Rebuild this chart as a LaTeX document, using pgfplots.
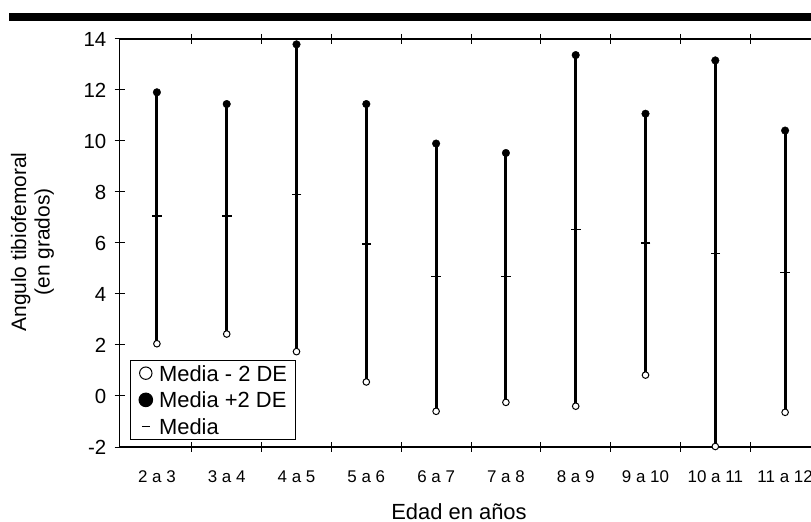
\documentclass[border=0pt]{standalone}
\usepackage{pgfplots}
\usepackage{pgfplotstable}
\pgfplotsset{compat=1.18}
\usepackage{fontspec}
\setmainfont{Liberation Sans}
\tikzset{xlab/.style={font=\fontsize{17}{17}\selectfont, inner sep=0pt, anchor=base, yshift=-35bp}}
\pgfplotstableread{
x low mean high
0 2.05 7.06 11.91
1 2.43 7.06 11.45
2 1.74 7.90 13.79
3 0.55 5.96 11.45
4 -0.60 4.69 9.90
5 -0.25 4.69 9.53
6 -0.40 6.52 13.37
7 0.82 6.00 11.07
8 -1.98 5.58 13.16
9 -0.64 4.85 10.41
}\datatable
\begin{document}
\begin{tikzpicture}
\path[use as bounding box] (0bp,0bp) rectangle (811bp,522bp);
\fill[black] (9bp,501bp) rectangle (811bp,509bp);
\begin{axis}[
  at={(119.5bp,75bp)}, anchor=south west,
  scale only axis, width=700.5bp, height=408bp,
  xmin=-0.536, xmax=9.5, ymin=-2, ymax=14,
  clip=false,
  axis line style={line width=1.1bp, black},
  xtick={0.5,1.5,...,9.5},
  xticklabels={},
  major tick length=10bp,
  tick align=center,
  ytick={-2,0,2,4,6,8,10,12,14},
  yticklabels={-2,0,2,4,6,8,10,12,14},
  tick style={black, line width=1bp},
  yticklabel style={font=\fontsize{20.5}{20.5}\selectfont, inner sep=0pt,
     text height=14.5bp, text depth=0bp, anchor=east, xshift=-8bp},
  legend style={at={(rel axis cs:0.015,0.017)}, anchor=south west,
    draw=black, line width=1bp, fill=white,
    font=\fontsize{22}{22}\selectfont,
    inner xsep=8bp, inner ysep=5bp, row sep=10.7bp, column sep=6bp,
    nodes={inner sep=0bp, text height=16bp, text depth=0bp},
    cells={anchor=west}},
]
\addlegendimage{legend image code/.code={\draw[black, line width=1bp, fill=white] (6.5bp,0bp) circle (6.2bp);}}
\addlegendentry{Media - 2 DE}
\addlegendimage{legend image code/.code={\fill[black] (6.5bp,0bp) circle (6.8bp);}}
\addlegendentry{Media +2 DE}
\addlegendimage{legend image code/.code={\draw[black, line width=1.2bp] (2.5bp,0bp) -- (10.5bp,0bp);}}
\addlegendentry{Media}

\addplot[forget plot, draw=none, mark=none,
  error bars/.cd, y dir=both, y explicit, error mark=none,
  error bar style={line width=3bp, black}]
  table[x=x, y=mean, y error plus expr=\thisrow{high}-\thisrow{mean},
        y error minus expr=\thisrow{mean}-\thisrow{low}] {\datatable};
\addplot[forget plot, only marks, mark=-, mark size=4.8bp,
  mark options={line width=1.2bp, black}] table[x=x, y=mean] {\datatable};
\addplot[forget plot, only marks, mark=*, mark size=3.8bp,
  mark options={black, fill=black}] table[x=x, y=high] {\datatable};
\addplot[forget plot, only marks, mark=*, mark size=3.3bp,
  mark options={draw=black, fill=white, line width=1bp}] table[x=x, y=low] {\datatable};

\node[xlab] at (axis cs:0,-2) {2 a 3};
\node[xlab] at (axis cs:1,-2) {3 a 4};
\node[xlab] at (axis cs:2,-2) {4 a 5};
\node[xlab] at (axis cs:3,-2) {5 a 6};
\node[xlab] at (axis cs:4,-2) {6 a 7};
\node[xlab] at (axis cs:5,-2) {7 a 8};
\node[xlab] at (axis cs:6,-2) {8 a 9};
\node[xlab] at (axis cs:7,-2) {9 a 10};
\node[xlab] at (axis cs:8,-2) {10 a 11};
\node[xlab] at (axis cs:9,-2) {11 a 12};
\end{axis}
\node[rotate=90, align=center, font=\fontsize{21}{23.5}\selectfont, inner sep=0pt]
  at (32.5bp,280bp) {Angulo tibiofemoral\\(en grados)};
\node[anchor=base, font=\fontsize{22}{22}\selectfont, inner sep=0pt]
  at (459bp,3bp) {Edad en años};
\end{tikzpicture}
\end{document}
